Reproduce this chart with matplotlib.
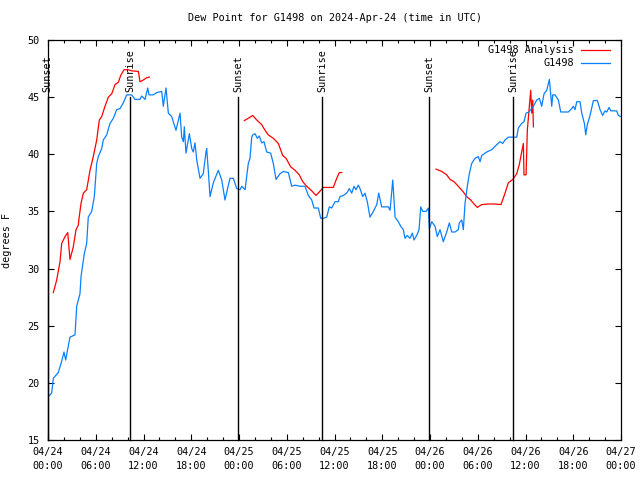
import numpy as np
import matplotlib
matplotlib.use("Agg")
import matplotlib.pyplot as plt

# hours since 2024-04-24 00:00 UTC
obs_hours = [0.04, 0.46, 0.67, 1.29, 1.72, 2.01, 2.22, 2.55, 2.76, 3.39, 3.61, 4.02, 4.15, 4.56, 4.86,
             5.06, 5.49, 5.82, 5.99, 6.12, 6.32, 6.75, 6.95, 7.38, 7.79, 8.21, 8.63, 9.05, 9.46, 9.89,
             10.52, 10.93, 11.56, 11.77, 12.19, 12.53, 12.69, 13.23, 13.66, 14.29, 14.49, 14.83, 15.12,
             15.54, 16.08, 16.59, 16.80, 17.01, 17.13, 17.34, 17.76, 18.06, 18.26, 18.47, 18.69, 19.10,
             19.51, 19.85, 19.94, 20.14, 20.36, 20.77, 21.40, 21.83, 22.24, 22.53, 22.87, 23.29, 23.71,
             24.13, 24.34, 24.76, 25.17, 25.38, 25.60, 25.72, 26.01, 26.30, 26.55, 26.85, 27.14, 27.48,
             27.98, 28.31, 28.65, 29.15, 29.57, 30.20, 30.62, 31.04, 31.67, 32.29, 32.71, 33.14, 33.43,
             33.97, 34.27, 34.59, 35.02, 35.35, 35.65, 36.06, 36.48, 36.69, 37.11, 37.53, 37.86, 38.16,
             38.45, 38.70, 38.99, 39.21, 39.54, 39.83, 40.12, 40.46, 40.88, 41.31, 41.56, 41.93, 42.76,
             42.98, 43.32, 43.61, 44.02, 44.32, 44.65, 44.86, 45.15, 45.49, 45.78, 45.99, 46.33, 46.62,
             46.84, 47.09, 47.50, 47.79, 47.92, 48.22, 48.63, 48.92, 49.26, 49.67, 50.10, 50.43, 50.73,
             51.14, 51.56, 51.68, 51.99, 52.19, 52.40, 52.69, 52.94, 53.24, 53.66, 54.07, 54.29, 54.50,
             55.13, 55.76, 56.17, 56.80, 57.14, 57.43, 57.84, 58.90, 59.10, 59.52, 59.81, 60.07, 60.44,
             60.78, 60.99, 61.41, 61.74, 62.04, 62.33, 62.67, 62.87, 63.00, 63.30, 63.42, 63.71, 64.13,
             64.43, 65.38, 65.81, 66.01, 66.22, 66.44, 66.85, 67.07, 67.40, 67.57, 67.77, 68.11, 68.53,
             69.03, 69.37, 69.70, 69.99, 70.21, 70.50, 70.71, 71.12, 71.46, 71.67, 71.97]
obs_dewpt = [18.8, 19.1, 20.4, 20.9, 21.9, 22.7, 22.0, 23.2, 24.0, 24.2, 26.7, 27.8, 29.3, 31.3, 32.2,
             34.5, 35.0, 36.3, 38.0, 39.2, 39.8, 40.5, 41.25, 41.7, 42.7, 43.15, 43.9, 44.0, 44.5, 45.2,
             45.2, 44.8, 44.8, 45.1, 44.8, 45.8, 45.2, 45.2, 45.4, 45.5, 44.2, 45.8, 43.6,
             43.3, 42.1, 43.6, 41.5, 41.1, 42.4, 40.1, 41.8, 40.5, 40.2, 41.0, 39.5, 37.9,
             38.3, 40.2, 40.5, 38.6, 36.3, 37.5, 38.6, 37.75, 36.0, 36.9, 37.9, 37.9, 37.0,
             36.9, 37.2, 36.9, 39.2, 39.65, 41.5, 41.7, 41.8, 41.4, 41.6, 41.0, 41.1, 40.2,
             40.1, 39.2, 37.8, 38.3, 38.5, 38.4, 37.2, 37.3, 37.2, 37.2, 36.4, 36.0, 35.3,
             35.3, 34.4, 34.4, 34.5, 35.4, 35.3, 35.85, 35.85, 36.3, 36.4, 36.6, 37.0, 36.6,
             37.2, 36.9, 37.3, 37.0, 36.3, 36.6, 35.85, 34.5, 35.0, 35.6, 36.6, 35.4, 35.4,
             35.1, 37.75, 34.5, 34.1, 33.7, 33.4, 32.65, 32.9, 32.65, 33.1, 32.5, 32.9, 33.4,
             35.4, 35.0, 35.0, 35.3, 33.5, 34.1, 33.7, 32.8, 33.4, 32.35, 33.2, 34.0, 33.2,
             33.2, 33.4, 34.0, 34.25, 33.4, 35.7, 37.2, 38.3, 39.2, 39.65, 39.8, 39.35, 39.9,
             40.2, 40.4, 40.7, 41.1, 40.95, 41.25, 41.5, 41.5, 42.3, 42.7, 42.85, 43.6, 43.7,
             44.0, 44.2, 44.75, 44.9, 44.2, 45.3, 45.6, 46.2, 46.55, 44.2, 45.2, 45.2, 44.75,
             43.7, 43.7, 44.0, 44.2, 43.9, 44.6, 44.6, 43.6, 42.7, 41.7, 42.6, 43.4, 44.7,
             44.7, 43.9, 43.4, 43.8, 43.7, 44.1, 43.8, 43.8, 43.8, 43.4, 43.3]

ana_hours = [0.67, 1.09, 1.51, 1.72, 2.14, 2.48, 2.64, 2.76, 3.18, 3.52, 3.81, 3.90, 4.15, 4.44, 4.86,
             5.28, 5.69, 6.12, 6.45, 6.75, 7.16, 7.58, 8.01, 8.42, 8.84, 9.14, 9.55, 10.09, 10.52,
             11.35, 11.56, 11.98, 12.40, 12.73, 18.0,
             24.67, 25.17, 25.72, 26.23, 26.85, 27.27, 27.68, 28.31, 28.94, 29.49, 29.91, 30.50,
             31.04, 31.58, 32.01, 32.51, 33.14, 33.68, 34.09, 34.59, 35.85, 36.28, 36.61, 36.91, 42.0,
             48.76, 49.47, 50.10, 50.52, 51.02, 51.56, 52.19, 52.61, 53.12, 53.53, 53.95, 54.50,
             55.33, 56.17, 56.92, 57.43, 57.84, 58.40, 58.90, 59.22, 59.52, 59.73, 59.81, 60.07,
             60.23, 60.48, 60.66, 60.78, 60.91, 60.99]
ana_dewpt = [27.9, 29.0, 30.6, 32.2, 32.8, 33.15, 31.8, 30.8, 31.9, 33.4, 33.8, 34.4, 35.7, 36.6, 36.9,
             38.6, 39.8, 41.25, 43.0, 43.3, 44.2, 45.0, 45.3, 46.1, 46.3, 46.9, 47.4, 47.4, 47.3,
             47.25, 46.35, 46.5, 46.7, 46.75, np.nan,
             42.95, 43.15, 43.4, 43.0, 42.6, 42.1, 41.7, 41.4, 40.95, 39.9, 39.65, 38.9,
             38.6, 38.2, 37.6, 37.2, 36.8, 36.4, 36.7, 37.1, 37.1, 37.9, 38.4, 38.4, np.nan,
             38.7, 38.5, 38.2, 37.8, 37.6, 37.2, 36.7, 36.3, 36.0, 35.65, 35.35, 35.6,
             35.65, 35.65, 35.6, 36.6, 37.5, 37.8, 38.3, 39.1, 40.2, 40.95, 38.2, 38.2,
             42.1, 44.2, 45.6, 43.6, 44.75, 42.4]

sun_hours = [-0.05, 10.30, 23.87, 34.43, 47.88, 58.44]
sun_labels = ["Sunset", "Sunrise", "Sunset", "Sunrise", "Sunset", "Sunrise"]

xtick_hours = list(range(0, 73, 6))
xtick_labels = ["04/24\n00:00", "04/24\n06:00", "04/24\n12:00", "04/24\n18:00",
                "04/25\n00:00", "04/25\n06:00", "04/25\n12:00", "04/25\n18:00",
                "04/26\n00:00", "04/26\n06:00", "04/26\n12:00", "04/26\n18:00",
                "04/27\n00:00"]
yticks = [15, 20, 25, 30, 35, 40, 45, 50]

mono = "DejaVu Sans Mono"
fs = 7.3
RED = "#ff0000"
BLUE = "#0a80ff"

fig = plt.figure(figsize=(6.4, 4.8), dpi=100)
ax = fig.add_axes([48/640, 40/480, (621-48)/640, 400/480])

ax.plot(ana_hours, ana_dewpt, color=RED, lw=0.9)
ax.plot(obs_hours, obs_dewpt, color=BLUE, lw=0.9)

for h, lab in zip(sun_hours, sun_labels):
    ax.plot([h, h], [15, 45], color="black", lw=1.0, clip_on=False)
    ax.text(h, 45.45, lab, rotation=90, ha="center", va="bottom",
            fontsize=fs, family=mono, clip_on=False)

ax.set_xlim(0, 72)
ax.set_ylim(15, 50)
ax.set_xticks(xtick_hours)
ax.set_xticklabels(xtick_labels, family=mono, fontsize=fs, linespacing=1.45)
ax.set_xticks(np.arange(0, 73, 2), minor=True)
ax.set_yticks(yticks)
ax.set_yticklabels([str(v) for v in yticks], family=mono, fontsize=fs)
ax.tick_params(which="both", direction="in", top=True, right=True, width=0.8)
ax.tick_params(which="major", length=4.5, pad=5)
ax.tick_params(axis="y", which="major", pad=6)
ax.tick_params(which="minor", length=2.5)
for s in ax.spines.values():
    s.set_linewidth(0.9)

ax.set_ylabel("degrees F", family=mono, fontsize=fs, labelpad=11)
ax.set_title("Dew Point for G1498 on 2024-Apr-24 (time in UTC)", family=mono, fontsize=fs, pad=14)

# legend (drawn manually, gnuplot style)
tr = ax.transAxes
lx0, lx1, tx = (581-48)/573, (610-48)/573, (574-48)/573
for i, (lab, col) in enumerate([("G1498 Analysis", RED), ("G1498", BLUE)]):
    yy = 1 - (10 + 13*i)/400
    ax.text(tx, yy, lab, transform=tr, ha="right", va="center", family=mono, fontsize=fs)
    ax.plot([lx0, lx1], [yy, yy], transform=tr, color=col, lw=0.9, clip_on=False)

fig.savefig("out.png", dpi=100)
